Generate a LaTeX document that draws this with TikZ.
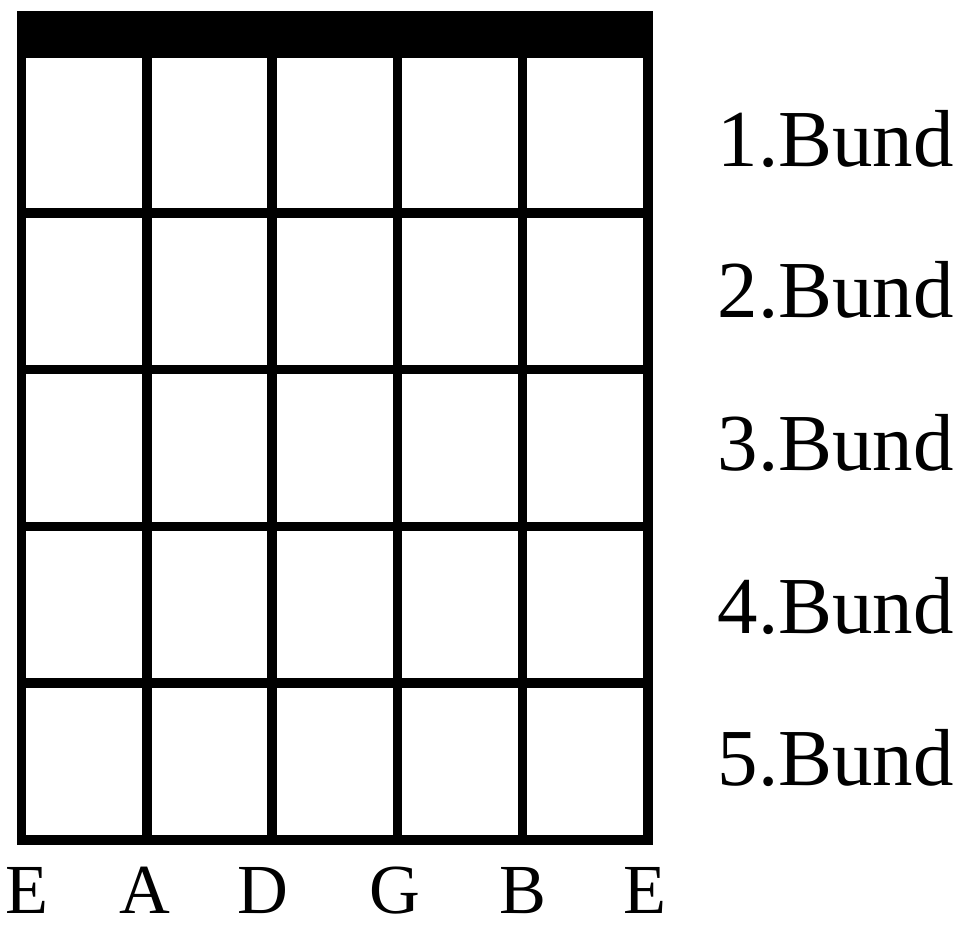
\documentclass[tikz,border=0pt]{standalone}
\usepackage{fontspec}
\setmainfont{Liberation Serif}
\usepackage{tikz}

\begin{document}
\begin{tikzpicture}[x = 0.01cm, y = -0.01cm, line cap = rect]
\useasboundingbox (0, 0) rectangle (971, 932);
% nut
\fill (17, 11) rectangle (653, 58);
% strings and frets
\foreach \s in {0, ..., 5}
  \draw[line width = 2.7pt] ({21.5 + 125.3*\s}, 56) -- ({21.5 + 125.3*\s}, 840);
\foreach \f in {1, ..., 5}
  \draw[line width = 2.7pt] (21.5, {56 + 156.8*\f}) -- (648, {56 + 156.8*\f});
\foreach \f/\y in {1/166, 2/317, 3/470, 4/633, 5/785}
  \node (bund\f) at (717, \y) [anchor = base west, inner sep = 0pt,
    font = \fontsize{23}{27}\selectfont] {\f.Bund};
\foreach \n/\x/\t in {1/27/E, 2/145/A, 3/263/D, 4/395/G, 5/523/B, 6/645/E}
  \node (string\n) at (\x, 913) [anchor = base, inner sep = 0pt,
    font = \fontsize{20}{24}\selectfont] {\t};
\end{tikzpicture}
\end{document}
